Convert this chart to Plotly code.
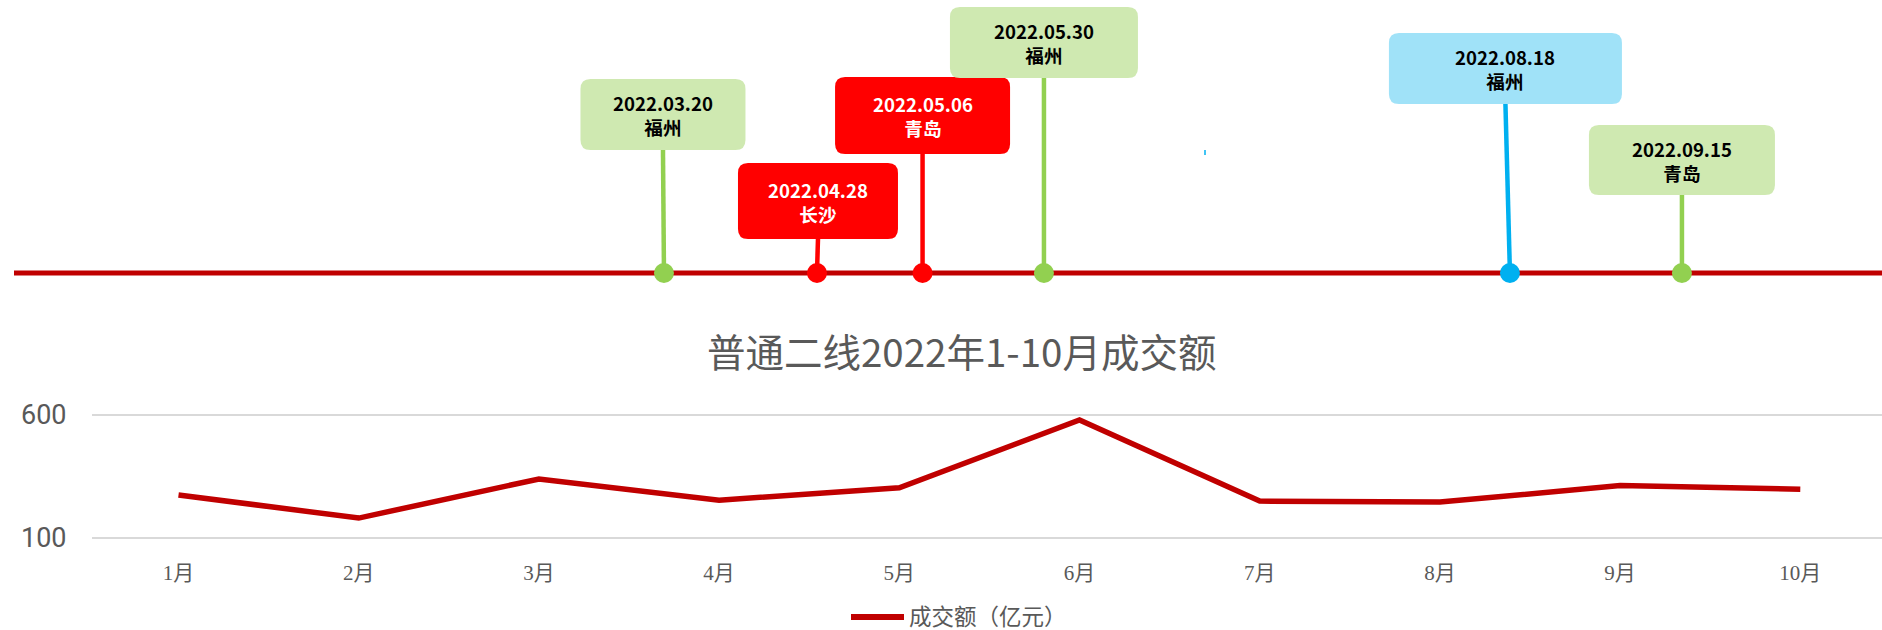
import plotly.graph_objects as go

W, H = 1882, 630

# ---- monthly turnover (亿元) ----
months = ["1月", "2月", "3月", "4月", "5月", "6月", "7月", "8月", "9月", "10月"]
turnover = [275, 181, 340, 254, 304, 580, 250, 246, 313, 298]
y_ticks = [100, 600]

# ---- land-auction events on the timeline ----
event_dates = ["2022.03.20", "2022.04.28", "2022.05.06", "2022.05.30", "2022.08.18", "2022.09.15"]
event_cities = ["福州", "长沙", "青岛", "福州", "福州", "青岛"]
event_kind = ["green", "red", "red", "green", "blue", "green"]

# placement of each event along the timeline (percent of its length)
event_pos = [35.28, 43.41, 49.02, 55.47, 80.23, 89.37]
# label boxes: top / bottom height above the timeline (px), width (px), centre shift (px)
box_top = [194, 110, 196, 266, 240, 148]
box_bottom = [123, 34, 119, 195, 169, 78]
box_width = [165, 160, 175, 188, 233, 186]
box_shift = [-1, 1, 0, 0, -4.5, 0]

STYLE = {
    "green": dict(stem="#92D050", box="#CFE9B1", text="#000000"),
    "red": dict(stem="#FF0000", box="#FF0000", text="#FFFFFF"),
    "blue": dict(stem="#00B0F0", box="#A0E2F8", text="#000000"),
}

LINE_Y_PX = 273          # timeline position from the top of the page
KX = 100.0 / W           # timeline units per pixel (horizontal)
CJK = "Noto Sans CJK SC"
GREY = "#595959"
DARK_RED = "#C00000"

fig = go.Figure()

# ---- line chart of turnover ----
fig.add_trace(go.Scatter(
    x=months, y=turnover, mode="lines",
    line=dict(color=DARK_RED, width=5.5),
    name="成交额（亿元）", showlegend=False, hoverinfo="skip",
    xaxis="x", yaxis="y",
))

# ---- timeline dots ----
fig.add_trace(go.Scatter(
    x=event_pos, y=[0] * len(event_pos), mode="markers",
    marker=dict(size=20, color=[STYLE[k]["stem"] for k in event_kind], line=dict(width=0)),
    showlegend=False, hoverinfo="skip", xaxis="x2", yaxis="y2",
))

shapes = []
annotations = []

# timeline base line
shapes.append(dict(type="line", xref="x2", yref="y2", x0=14 * KX, x1=100, y0=0, y1=0,
                   line=dict(color=DARK_RED, width=5), layer="below"))


def rounded_box(cx, half_w_px, y_bot, y_top, r_px=10):
    x0 = cx - half_w_px * KX
    x1 = cx + half_w_px * KX
    rx = r_px * KX
    ry = r_px
    return (f"M {x0 + rx},{y_top} L {x1 - rx},{y_top} Q {x1},{y_top} {x1},{y_top - ry} "
            f"L {x1},{y_bot + ry} Q {x1},{y_bot} {x1 - rx},{y_bot} "
            f"L {x0 + rx},{y_bot} Q {x0},{y_bot} {x0},{y_bot + ry} "
            f"L {x0},{y_top - ry} Q {x0},{y_top} {x0 + rx},{y_top} Z")


for i, d in enumerate(event_dates):
    st = STYLE[event_kind[i]]
    cx = event_pos[i] + box_shift[i] * KX
    # stem from box down to the dot
    shapes.append(dict(type="line", xref="x2", yref="y2",
                       x0=event_pos[i], y0=0, x1=cx, y1=box_bottom[i],
                       line=dict(color=st["stem"], width=4.5), layer="below"))
    # rounded label box
    shapes.append(dict(type="path", xref="x2", yref="y2",
                       path=rounded_box(cx, box_width[i] / 2, box_bottom[i], box_top[i]),
                       fillcolor=st["box"], line=dict(width=0), layer="above"))
    ymid = (box_top[i] + box_bottom[i]) / 2
    annotations.append(dict(xref="x2", yref="y2", x=cx, y=ymid,
                            text=f"<b>{d}<br>{event_cities[i]}</b>",
                            showarrow=False, xanchor="center", yanchor="middle",
                            align="center",
                            font=dict(family=CJK, size=18.6, color=st["text"])))

# small stray tick between the May and August events
shapes.append(dict(type="line", xref="x2", yref="y2", x0=1205 * KX, x1=1205 * KX,
                   y0=LINE_Y_PX - 155, y1=LINE_Y_PX - 150,
                   line=dict(color="#00B0F0", width=1.5)))

# chart title
annotations.append(dict(xref="paper", yref="paper", x=961 / W, y=(H - 350) / H,
                        text="普通二线2022年1-10月成交额", showarrow=False,
                        xanchor="center", yanchor="middle",
                        font=dict(family=CJK, size=38.5, color=GREY)))

# legend
shapes.append(dict(type="line", xref="paper", yref="paper",
                   x0=851 / W, x1=904 / W, y0=(H - 617) / H, y1=(H - 617) / H,
                   line=dict(color=DARK_RED, width=6)))
annotations.append(dict(xref="paper", yref="paper", x=907 / W, y=(H - 615) / H,
                        text="成交额（亿元）", showarrow=False,
                        xanchor="left", yanchor="middle",
                        font=dict(family=CJK, size=22.5, color=GREY)))

# axis geometry of the line chart
y_lo, y_hi = 90, 620
px_per_unit = (538 - 415) / 500.0
bottom_px = 538 + (100 - y_lo) * px_per_unit
top_px = 415 - (y_hi - 600) * px_per_unit
left_px = 91.5
cat_step = 180.2
first_cat_px = 178.5

fig.update_layout(
    width=W, height=H,
    margin=dict(l=0, r=0, t=0, b=0, autoexpand=False),
    paper_bgcolor="white", plot_bgcolor="rgba(0,0,0,0)",
    showlegend=False,
    shapes=shapes, annotations=annotations,
    xaxis=dict(
        type="category", domain=[left_px / W, 1],
        range=[(left_px - first_cat_px) / cat_step, (W - first_cat_px) / cat_step],
        showgrid=False, zeroline=False, showline=False, ticks="",
        tickfont=dict(family="Liberation Serif, " + CJK, size=21, color=GREY),
        ticklabelstandoff=18, anchor="y", automargin=False,
    ),
    yaxis=dict(
        domain=[(H - bottom_px) / H, (H - top_px) / H],
        range=[y_lo, y_hi], tickvals=y_ticks,
        showgrid=True, gridcolor="#D9D9D9", gridwidth=1.5,
        zeroline=False, showline=False, ticks="",
        tickfont=dict(family="Roboto", size=27, color=GREY),
        ticklabelstandoff=24, anchor="x", automargin=False,
    ),
    xaxis2=dict(domain=[0, 1], range=[0, 100], visible=False, anchor="y2",
                fixedrange=True, automargin=False),
    yaxis2=dict(domain=[0, 1], range=[LINE_Y_PX - H, LINE_Y_PX], visible=False,
                anchor="x2", fixedrange=True, automargin=False),
)

fig.write_html("out.html")
